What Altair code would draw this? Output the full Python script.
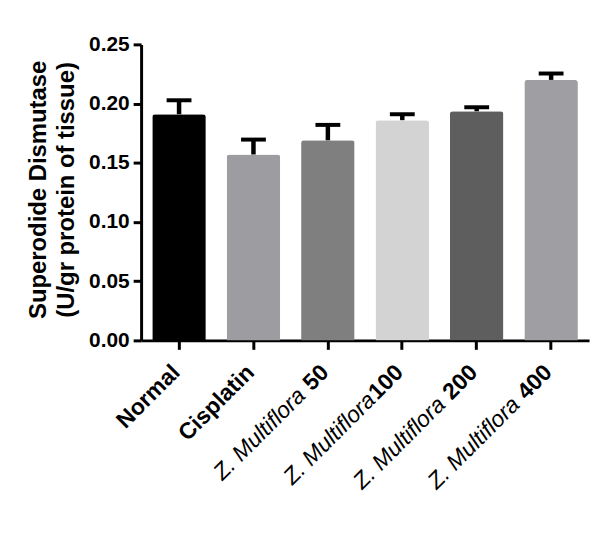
import altair as alt
import pandas as pd

categories = ["Normal", "Cisplatin", "Z. Multiflora 50", "Z. Multiflora100",
              "Z. Multiflora 200", "Z. Multiflora 400"]
bold_parts = ["Normal", "Cisplatin", " 50", "100", " 200", " 400"]
italic_parts = ["", "", "Z. Multiflora", "Z. Multiflora", "Z. Multiflora", "Z. Multiflora"]
means = [0.191, 0.157, 0.169, 0.186, 0.1935, 0.220]
errors = [0.0118, 0.0126, 0.013, 0.005, 0.0034, 0.0054]
colors = ["#000000", "#9d9ca1", "#7f7f7f", "#d3d3d3", "#5e5e5e", "#9f9ea3"]
y_ticks = [0.0, 0.05, 0.10, 0.15, 0.20, 0.25]

df = pd.DataFrame({
    "group": categories,
    "mean": means,
    "upper": [m + e for m, e in zip(means, errors)],
    "bold": bold_parts,
    "ital": italic_parts,
})

W, H = 451, 298
FONT = "Liberation Sans"
LABEL_SIZE = 23
# Liberation Sans Bold advance widths (em) for the characters used in the bold tails
bold_w = {" ": 0.278, "0": 0.556, "1": 0.556, "2": 0.556, "4": 0.556, "5": 0.556}

x = alt.X("group:N", sort=categories,
          scale=alt.Scale(paddingInner=0.28, paddingOuter=0.15),
          axis=alt.Axis(title=None, labels=False, ticks=True, tickSize=9, tickWidth=3,
                        tickColor="black", domainColor="black", domainWidth=3))

base = alt.Chart(df)

bars = base.mark_bar(cornerRadiusTopLeft=3, cornerRadiusTopRight=3).encode(
    x=x,
    y=alt.Y("mean:Q", scale=alt.Scale(domain=[0, 0.25], nice=False),
            axis=alt.Axis(values=y_ticks, format=".2f", grid=False,
                          labelFont=FONT, labelFontSize=21, labelFontWeight="bold",
                          labelColor="black", labelPadding=4,
                          tickSize=8, tickWidth=3, tickColor="black",
                          domainColor="black", domainWidth=3,
                          title=["Superodide Dismutase", "(U/gr protein of tissue)"],
                          titleFont=FONT, titleFontSize=24, titleFontWeight="bold",
                          titleColor="black", titleLineHeight=28,
                          titleAngle=270, titleAlign="center", titleBaseline="middle",
                          titleX=-103, titleY=146)),
    color=alt.Color("group:N", scale=alt.Scale(domain=categories, range=colors), legend=None),
)

stems = base.mark_rule(color="black", strokeWidth=4.5).encode(
    x=alt.X("group:N", sort=categories), y="mean:Q", y2="upper:Q")

caps = base.mark_tick(color="black", thickness=4, size=25, opacity=1).encode(
    x=alt.X("group:N", sort=categories), y="upper:Q")

DX = 1
DY = -5
LABEL_Y = H + 33

bold_text = base.mark_text(font=FONT, fontSize=LABEL_SIZE, fontWeight="bold", angle=315,
                           align="right", baseline="middle", dx=DX, dy=DY,
                           color="black").encode(
    x=alt.X("group:N", sort=categories), y=alt.value(LABEL_Y), text="bold:N")

layers = [bars, stems, caps, bold_text]
for cat, b, it in zip(categories, bold_parts, italic_parts):
    if not it:
        continue
    w = sum(bold_w.get(c, 0.556) for c in b) * LABEL_SIZE + 1
    layers.append(
        base.transform_filter(alt.datum.group == cat).mark_text(
            font=FONT, fontSize=LABEL_SIZE, fontStyle="italic", angle=315,
            align="right", baseline="middle", dx=DX - w, dy=DY, color="black").encode(
            x=alt.X("group:N", sort=categories), y=alt.value(LABEL_Y), text="ital:N"))

chart = alt.layer(*layers).properties(
    width=W, height=H,
    autosize=alt.AutoSizeParams(type="none"),
    padding={"left": 134, "top": 35, "right": 10, "bottom": 150},
).configure_view(stroke=None).configure_axis(labelFlush=False)

chart.save("out.html", embed_options={"renderer": "svg", "actions": False})
